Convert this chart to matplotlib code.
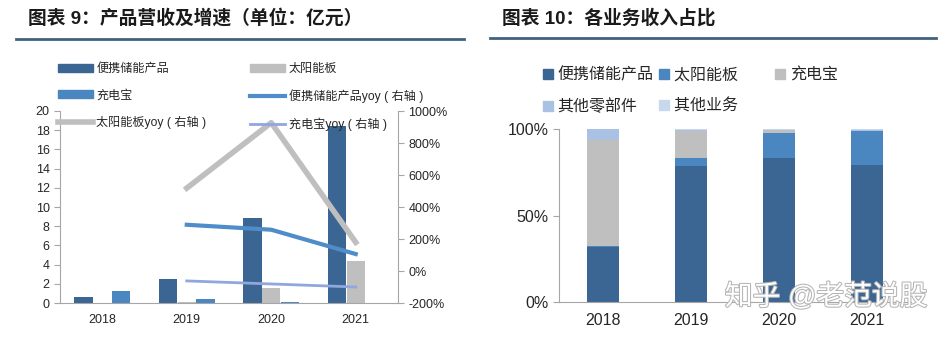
import numpy as np
import matplotlib
matplotlib.use('Agg')
import matplotlib.pyplot as plt
from matplotlib.lines import Line2D
from matplotlib.patches import Patch
import matplotlib.patheffects as pe

plt.rcParams['font.family'] = ['Liberation Sans', 'Noto Sans CJK SC', 'DejaVu Sans']

# 图表9 数据（亿元）
years = ['2018', '2019', '2020', '2021']
portable = [0.6, 2.5, 8.9, 18.4]
solar = [0.0, 0.15, 1.52, 4.33]
charging = [1.2, 0.45, 0.1, 0.0]
# yoy（%）
portable_yoy = [np.nan, 289, 258, 106]
solar_yoy = [np.nan, 518, 927, 179]
charging_yoy = [np.nan, -62, -81, -100]

# 图表10 数据（%）
share_portable = [32, 78.5, 83.2, 79.4]
share_solar = [0.5, 5, 14.7, 19.4]
share_charging = [61, 15.5, 1.5, 0.3]
share_parts = [6.5, 0.5, 0.3, 0.5]
share_other = [0, 0.5, 0.3, 0.4]

c_dark = '#3b6694'
c_blue = '#4a86c0'
c_gray = '#bfbfbf'
c_parts = '#a9c2e3'
c_other = '#c8d8ec'
c_line1 = '#4f8dca'
c_line3 = '#8fa6df'
c_spine = '#a6a6a6'
c_text = '#262626'

fig = plt.figure(figsize=(9.52, 3.38), dpi=100)

# titles and rules
fig.text(28 / 952, 1 - 18 / 338, '图表 9：产品营收及增速（单位：亿元）', fontsize=13.5,
         fontweight='bold', va='center', ha='left', color='#1a1a1a')
fig.text(502 / 952, 1 - 18 / 338, '图表 10：各业务收入占比', fontsize=13.5,
         fontweight='bold', va='center', ha='left', color='#1a1a1a')
fig.add_artist(Line2D([16 / 952, 464 / 952], [1 - 39 / 338] * 2, color='#41627f', lw=2))
fig.add_artist(Line2D([490 / 952, 936 / 952], [1 - 38 / 338] * 2, color='#41627f', lw=2))

# ---- 图表9 ----
ax1 = fig.add_axes([60 / 952, 35 / 338, 338 / 952, 192 / 338])
x = np.arange(len(years))
w = 0.215
off = 0.222
ax1.bar(x - off, portable, w, color=c_dark)
ax1.bar(x, solar, w, color=c_gray)
ax1.bar(x + off, charging, w, color=c_blue)
ax1.set_xlim(-0.5, 3.5)
ax1.set_ylim(0, 20)
ax1.set_yticks(range(0, 21, 2))
ax1.set_xticks(x)
ax1.set_xticklabels(years)
ax1.tick_params(axis='x', length=0, labelsize=9, colors=c_text, pad=8)
ax1.tick_params(axis='y', length=4, labelsize=9, colors=c_text, color=c_spine)
for s in ['top', 'right']:
    ax1.spines[s].set_visible(False)
for s in ['left', 'bottom']:
    ax1.spines[s].set_color(c_spine)

ax2 = ax1.twinx()
ax2.plot(x, solar_yoy, color=c_gray, lw=4)
ax2.plot(x, portable_yoy, color=c_line1, lw=3)
ax2.plot(x, charging_yoy, color=c_line3, lw=2)
ax2.set_ylim(-200, 1000)
ax2.set_yticks(range(-200, 1001, 200))
ax2.set_yticklabels([f'{v}%' for v in range(-200, 1001, 200)])
ax2.tick_params(axis='y', length=4, labelsize=9, colors=c_text, color=c_spine)
for s in ['top', 'left', 'bottom']:
    ax2.spines[s].set_visible(False)
ax2.spines['right'].set_color(c_spine)

h_portable = Patch(color=c_dark)
h_solar = Patch(color=c_gray)
h_charging = Patch(color=c_blue)
h_py = Line2D([], [], color=c_line1, lw=3)
h_sy = Line2D([], [], color=c_gray, lw=4)
h_cy = Line2D([], [], color=c_line3, lw=2)
handles = [h_portable, h_charging, h_sy, h_solar, h_py, h_cy]
labels = ['便携储能产品', '充电宝', '太阳能板yoy ( 右轴 )',
          '太阳能板', '便携储能产品yoy ( 右轴 )', '充电宝yoy ( 右轴 )']
fig.legend(handles, labels, loc='upper left', bbox_to_anchor=(53 / 952, 1 - 58 / 338),
           ncol=2, frameon=False, fontsize=8.7, handlelength=2.9, handleheight=0.65,
           handletextpad=0.3, labelspacing=1.2, columnspacing=3.6, borderaxespad=0,
           labelcolor=c_text)

# ---- 图表10 ----
ax3 = fig.add_axes([559 / 952, 36 / 338, 352 / 952, 173 / 338])
bw = 0.36
bottom = np.zeros(len(years))
series = [(share_portable, c_dark), (share_solar, c_blue), (share_charging, c_gray),
          (share_parts, c_parts), (share_other, c_other)]
for vals, col in series:
    ax3.bar(x, vals, bw, bottom=bottom, color=col)
    bottom = bottom + np.array(vals)
ax3.set_xlim(-0.5, 3.5)
ax3.set_ylim(0, 100)
ax3.set_yticks([0, 50, 100])
ax3.set_yticklabels(['0%', '50%', '100%'])
ax3.set_xticks(x)
ax3.set_xticklabels(years)
ax3.tick_params(axis='x', length=0, labelsize=11.5, colors=c_text, pad=8)
ax3.tick_params(axis='y', length=4, labelsize=11.5, colors=c_text, color=c_spine)
for s in ['top', 'right']:
    ax3.spines[s].set_visible(False)
for s in ['left', 'bottom']:
    ax3.spines[s].set_color(c_spine)

handles2 = [Patch(color=c_dark), Patch(color=c_parts), Patch(color=c_blue),
            Patch(color=c_other), Patch(color=c_gray)]
labels2 = ['便携储能产品', '其他零部件', '太阳能板\u3000\u3000', '其他业务\u3000\u3000', '充电宝']
fig.legend(handles2, labels2, loc='upper left', bbox_to_anchor=(537 / 952, 1 - 61 / 338),
           ncol=3, frameon=False, fontsize=11.5, handlelength=0.6, handleheight=0.6,
           handletextpad=0.3, labelspacing=1.0, columnspacing=0.35, borderaxespad=0,
           labelcolor=c_text)

# watermark
fig.text(826 / 952, 1 - 297 / 338, '知乎 @老范说股', fontsize=20, ha='center', va='center',
         color='white', path_effects=[pe.withStroke(linewidth=1.5, foreground='#b5b5b5')])

fig.savefig('out.png', dpi=100)
